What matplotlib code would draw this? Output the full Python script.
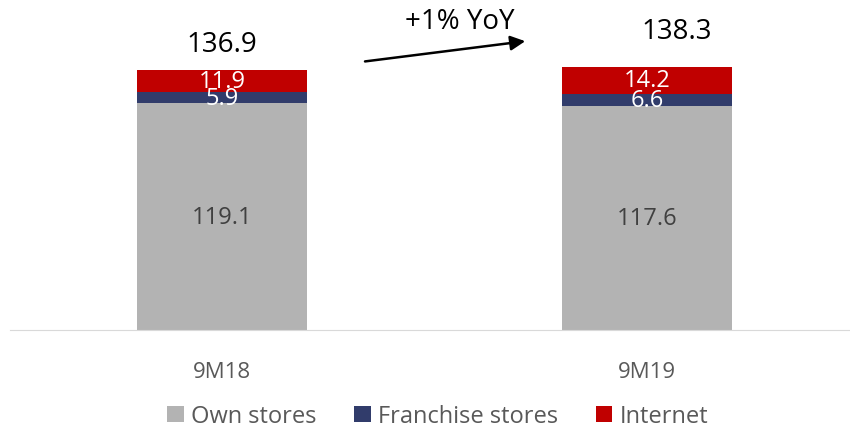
import numpy as np
import matplotlib.pyplot as plt

plt.rcParams['font.family'] = ['Open Sans', 'DejaVu Sans']

# Data
periods = ['9M18', '9M19']
own_stores = [119.1, 117.6]
franchise = [5.9, 6.6]
internet = [11.9, 14.2]
totals = [136.9, 138.3]
series_names = ['Own stores', 'Franchise stores', 'Internet']
colors = ['#b3b3b3', '#313c6b', '#c00000']

fig = plt.figure(figsize=(8.5, 4.31), dpi=100)
ax = fig.add_axes([9.5 / 850, 100 / 431, 850 / 850, 331 / 431])

x = np.arange(len(periods))
width = 0.4
bottom = np.zeros(len(periods))
for vals, name, c in zip([own_stores, franchise, internet], series_names, colors):
    ax.bar(x, vals, width, bottom=bottom, color=c, label=name)
    for xi, v, b in zip(x, vals, bottom):
        txt_color = '#404040' if c == '#b3b3b3' else 'white'
        ax.text(xi, b + v / 2, f'{v:.1f}', ha='center', va='center',
                fontsize=17, color=txt_color)
    bottom += np.array(vals)

# totals above bars
label_pos = [(0, 150.5), (1.07, 157.4)]
for t, (lx, ly) in zip(totals, label_pos):
    ax.text(lx, ly, f'{t:.1f}', ha='center', va='center', fontsize=20, color='black')

# YoY arrow
ax.annotate('', xy=(0.72, 152), xytext=(0.33, 141),
            arrowprops=dict(arrowstyle='-|>', color='black', lw=1.8, mutation_scale=22))
ax.text(0.56, 162.5, '+1% YoY', ha='center', va='center', fontsize=20, color='black')

ax.set_xlim(-0.5, 1.5)
ax.set_ylim(0, 174)
ax.set_xticks(x)
ax.set_xticklabels(periods, fontsize=16, color='#595959')
ax.tick_params(axis='x', length=0, pad=22)
ax.set_yticks([])
for s in ['top', 'right', 'left']:
    ax.spines[s].set_visible(False)
ax.spines['bottom'].set_color('#d9d9d9')

fig.legend(loc='lower center', bbox_to_anchor=(0.515, -0.045), ncol=3, frameon=False,
           fontsize=17, labelcolor='#595959', handlelength=0.7, handleheight=0.7,
           handletextpad=0.3, columnspacing=1.6)

plt.savefig('out.png', dpi=100)
